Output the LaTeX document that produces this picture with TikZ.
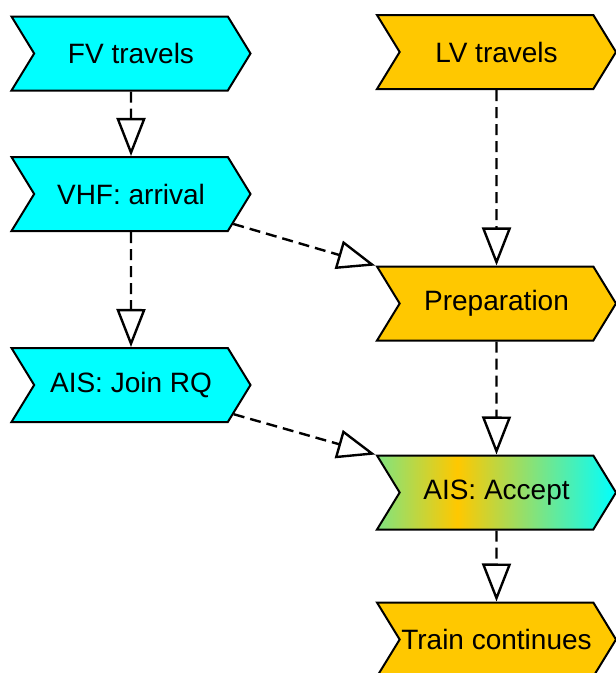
\documentclass[tikz,border=0pt]{standalone}
\usepackage{fontspec}
\setmainfont{Liberation Sans}
\usetikzlibrary{shapes.symbols}
\usetikzlibrary{arrows.meta}
\definecolor{fvcyan}{RGB}{0,255,255}
\definecolor{lvorange}{RGB}{255,200,0}
\definecolor{mixgreen}{RGB}{128,228,128}
\pgfdeclarehorizontalshading{acceptshading}{100bp}{color(0bp)=(mixgreen); color(25bp)=(mixgreen); color(41.8bp)=(lvorange); color(75bp)=(fvcyan); color(100bp)=(fvcyan)}
\tikzstyle{event}=[signal, signal from=west, signal to=east, signal pointer angle=117, draw=black, line width=2pt, minimum width=239pt, minimum height=74pt, inner sep=0pt, font=\fontsize{28}{32}\selectfont]
\tikzstyle{flow} = [draw, line width=2.4pt, dash pattern=on 11pt off 6pt, -{Triangle[length=38pt,width=29pt,fill=white]}]

\begin{document}
\begin{tikzpicture}[x=1pt, y=-1pt]

  \useasboundingbox (0,0) rectangle (616,673);
  \clip (0,0) rectangle (616,673);

  \foreach \x/\y/\name/\label in {131/53.5/fv/FV travels, 131/194/vhf/VHF: arrival, 131/385/join/AIS: Join RQ}
          \node[event, fill=fvcyan] (\name) at (\x, \y) {\label};

  \foreach \x/\y/\name/\label in {496.5/52/lv/LV travels, 496.5/303.5/prep/Preparation, 496.5/639.5/train/Train continues}
          \node[event, fill=lvorange] (\name) at (\x, \y) {\label};

  \node[event, shading=acceptshading] (accept) at (496.5, 492.5) {AIS: Accept};

  \foreach \source/ \dest in {fv/vhf, vhf/join, lv/prep, prep/accept, accept/train}
         \path[flow] (\source) -- (\dest);

  \foreach \source/ \dest in {vhf/prep.north west, join/accept.north west}
         \path[flow] (\source) -- (\dest);

\end{tikzpicture}
\end{document}
